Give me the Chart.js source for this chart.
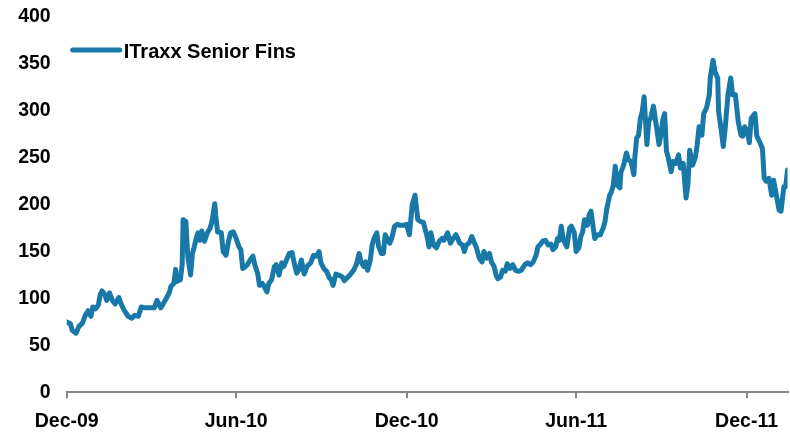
<!DOCTYPE html>
<html>
<head>
<meta charset="utf-8">
<script src="https://cdn.jsdelivr.net/npm/chart.js@4"></script>
<style>
  html, body { margin: 0; padding: 0; background: #fff; }
  #wrap { width: 790px; height: 434px; }
</style>
</head>
<body>
<div id="wrap"><canvas id="c" width="790" height="434"></canvas></div>
<script>
// Series label
const seriesLabel = 'ITraxx Senior Fins';

// Days since 1-Dec-2009 (x values)
const days = [
  0,4,6,10,13,17,20,23,26,28,31,34,36,38,41,43,46,49,52,56,59,62,66,70,73,77,80,84,89,94,
  97,101,104,108,110,112,115,117,118,122,124,125,128,130,133,135,137,139,141,143,145,148,151,154,156,159,160,162,166,168,
  171,174,176,179,182,185,187,189,192,194,197,200,202,205,207,210,212,215,217,220,223,225,228,231,233,236,239,242,244,247,
  249,252,255,258,262,265,268,271,273,276,279,282,284,286,289,292,296,298,302,305,308,311,314,316,319,321,323,326,328,330,
  333,335,338,340,342,345,347,349,352,355,358,362,365,368,371,374,377,380,383,387,389,391,394,397,400,403,405,409,412,415,
  418,422,425,427,429,432,435,437,440,443,446,448,451,454,456,459,461,463,466,468,471,473,476,479,482,485,488,492,495,498,
  501,504,506,509,511,514,517,520,522,525,527,529,531,533,535,537,540,542,545,547,550,552,554,556,559,561,563,565,567,570,
  573,576,578,580,583,585,587,589,591,594,595,598,601,603,606,609,610,612,614,616,618,620,623,625,627,630,633,636,638,640,
  642,644,646,649,651,654,657,659,662,665,667,669,672,675,677,679,682,684,687,690,691,694,696,699,700,703,705,707,710,713,
  715,718,721,724,726,728,731,733,735,739,741,744,747,749,751,754,757,759,762,765,767,770,772,774
];

// iTraxx Senior Financials spread (bp)
const spread = [
  75,73,66,63,70,74,82,87,81,91,89,93,104,108,104,98,106,98,94,101,93,87,81,79,82,81,91,90,90,90,
  98,90,95,102,106,113,116,131,118,120,136,184,182,145,125,148,155,164,170,162,172,161,170,175,182,201,189,171,170,150,
  146,162,170,171,164,155,152,132,134,136,141,145,136,127,114,116,113,107,116,120,134,136,125,138,134,141,148,149,139,127,
  130,141,126,134,138,146,145,150,138,132,129,122,120,114,126,125,123,119,123,126,130,136,148,139,134,139,130,141,157,164,
  170,155,148,148,168,162,159,164,177,179,178,178,179,168,200,210,184,182,181,166,155,170,157,154,161,164,162,170,159,164,
  168,159,157,150,157,159,166,161,154,143,139,150,143,148,139,134,125,121,123,130,129,137,132,136,130,129,130,136,138,136,
  139,146,155,158,161,162,157,158,152,155,164,162,177,164,159,155,175,177,170,150,154,166,171,184,178,189,193,178,164,168,
  168,175,182,196,210,214,221,241,221,218,234,242,255,248,246,232,250,271,274,292,299,315,264,289,292,305,285,264,274,290,
  297,257,250,235,246,244,253,239,244,207,221,258,242,250,264,283,274,297,303,317,335,354,342,335,299,278,262,281,317,335,
  317,317,289,274,273,283,278,266,292,297,273,267,260,228,225,228,210,226,210,194,193,219,219,237
];

// X-axis ticks
const tickDays = [0, 182, 365, 547, 730];
const tickLabels = ['Dec-09', 'Jun-10', 'Dec-10', 'Jun-11', 'Dec-11'];

const lineColor = '#1878a8';
const axisGrey = '#868686';
const tickFont = { family: "'Liberation Sans', Arial, sans-serif", size: 19.5, weight: 'bold' };

const legendInChart = {
  id: 'legendInChart',
  afterDraw(chart) {
    const { ctx, chartArea } = chart;
    const ds = chart.data.datasets[0];
    const x0 = chartArea.left + 6;
    const y0 = chartArea.top + 33;
    ctx.save();
    ctx.strokeStyle = ds.borderColor;
    ctx.lineWidth = 5;
    ctx.lineCap = 'round';
    ctx.beginPath();
    ctx.moveTo(x0, y0);
    ctx.lineTo(x0 + 47, y0);
    ctx.stroke();
    ctx.fillStyle = '#000';
    ctx.font = "bold 20px 'Liberation Sans', Arial, sans-serif";
    ctx.textBaseline = 'middle';
    ctx.textAlign = 'left';
    ctx.fillText(ds.label, x0 + 51, y0 + 2);
    ctx.restore();
  }
};

new Chart(document.getElementById('c'), {
  type: 'line',
  data: {
    datasets: [{
      label: seriesLabel,
      data: days.map((d, i) => ({ x: d, y: spread[i] })),
      borderColor: lineColor,
      backgroundColor: lineColor,
      borderWidth: 5,
      pointRadius: 0,
      tension: 0,
      borderJoinStyle: 'round',
      borderCapStyle: 'round',
      fill: false
    }]
  },
  options: {
    responsive: false,
    animation: false,
    layout: { padding: { top: 17, right: 0, bottom: 0, left: 0 } },
    plugins: { legend: { display: false }, tooltip: { enabled: false } },
    scales: {
      x: {
        type: 'linear',
        min: 0,
        max: 774,
        afterBuildTicks: (axis) => { axis.ticks = tickDays.map(v => ({ value: v })); },
        afterFit: (axis) => { axis.height = 41.7; },
        grid: { display: true, drawOnChartArea: false, drawTicks: true, tickLength: 6, color: axisGrey, lineWidth: 2 },
        border: { display: true, color: axisGrey, width: 2 },
        ticks: {
          autoSkip: false,
          maxRotation: 0,
          padding: 12,
          color: '#000',
          font: tickFont,
          callback: (v, i) => tickLabels[i]
        }
      },
      y: {
        min: 0,
        max: 400,
        afterFit: (axis) => { axis.width = 66.7; axis.paddingTop = 0; axis.paddingBottom = 0; },
        grid: { display: false, drawTicks: false },
        border: { display: false },
        ticks: { stepSize: 50, padding: 16, color: '#000', font: tickFont }
      }
    }
  },
  plugins: [legendInChart]
});
</script>
</body>
</html>
